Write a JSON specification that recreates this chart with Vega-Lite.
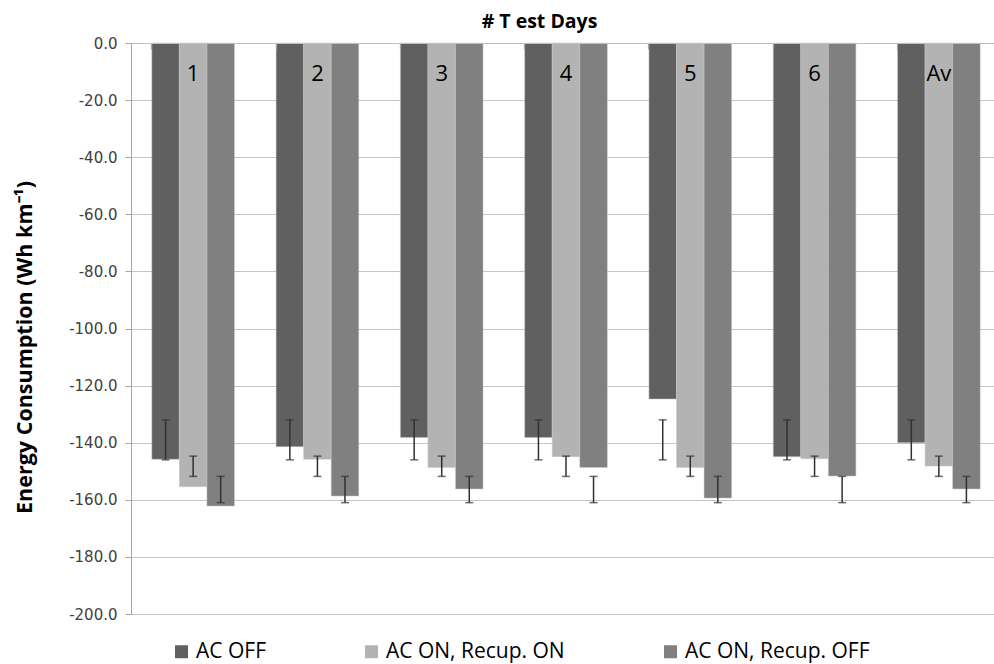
{
  "$schema": "https://vega.github.io/schema/vega-lite/v6.json",
  "autosize": "none",
  "width": 863,
  "height": 571,
  "padding": {"left": 131, "top": 43, "right": 0, "bottom": 50},
  "background": "white",
  "config": {
    "view": {"stroke": null},
    "font": "Open Sans",
    "locale": {"number": {"decimal": ".", "thousands": ",", "grouping": [3], "currency": ["$", ""], "minus": "-"}},
    "axisY": {
      "labelFontSize": 15, "labelColor": "#404040", "labelFont": "DejaVu Sans",
      "tickColor": "#a6a6a6", "tickSize": 6, "labelPadding": 8,
      "domainColor": "#a6a6a6", "gridColor": "#c4c4c4", "gridWidth": 1.2,
      "titleFontSize": 21.5, "titleFontWeight": "bold", "titleColor": "#000000",
      "labelOverlap": false
    }
  },
  "datasets": {
    "bars": [
      {"day": "1", "series": "AC OFF", "value": -145.8, "lo": -146.0, "hi": -132.0},
      {"day": "1", "series": "AC ON, Recup. ON", "value": -155.4, "lo": -151.8, "hi": -144.7},
      {"day": "1", "series": "AC ON, Recup. OFF", "value": -162.2, "lo": -161.0, "hi": -151.8},
      {"day": "2", "series": "AC OFF", "value": -141.4, "lo": -146.0, "hi": -132.0},
      {"day": "2", "series": "AC ON, Recup. ON", "value": -145.8, "lo": -151.8, "hi": -144.7},
      {"day": "2", "series": "AC ON, Recup. OFF", "value": -158.7, "lo": -161.0, "hi": -151.8},
      {"day": "3", "series": "AC OFF", "value": -138.2, "lo": -146.0, "hi": -132.0},
      {"day": "3", "series": "AC ON, Recup. ON", "value": -148.7, "lo": -151.8, "hi": -144.7},
      {"day": "3", "series": "AC ON, Recup. OFF", "value": -156.2, "lo": -161.0, "hi": -151.8},
      {"day": "4", "series": "AC OFF", "value": -138.2, "lo": -146.0, "hi": -132.0},
      {"day": "4", "series": "AC ON, Recup. ON", "value": -144.9, "lo": -151.8, "hi": -144.7},
      {"day": "4", "series": "AC ON, Recup. OFF", "value": -148.7, "lo": -161.0, "hi": -151.8},
      {"day": "5", "series": "AC OFF", "value": -124.7, "lo": -146.0, "hi": -132.0},
      {"day": "5", "series": "AC ON, Recup. ON", "value": -148.7, "lo": -151.8, "hi": -144.7},
      {"day": "5", "series": "AC ON, Recup. OFF", "value": -159.4, "lo": -161.0, "hi": -151.8},
      {"day": "6", "series": "AC OFF", "value": -144.9, "lo": -146.0, "hi": -132.0},
      {"day": "6", "series": "AC ON, Recup. ON", "value": -145.6, "lo": -151.8, "hi": -144.7},
      {"day": "6", "series": "AC ON, Recup. OFF", "value": -151.7, "lo": -161.0, "hi": -151.8},
      {"day": "Av", "series": "AC OFF", "value": -140.0, "lo": -146.0, "hi": -132.0},
      {"day": "Av", "series": "AC ON, Recup. ON", "value": -148.2, "lo": -151.8, "hi": -144.7},
      {"day": "Av", "series": "AC ON, Recup. OFF", "value": -156.2, "lo": -161.0, "hi": -151.8}
    ],
    "labels": [
      {"day": "1", "label": "1"},
      {"day": "2", "label": "2"},
      {"day": "3", "label": "3"},
      {"day": "4", "label": "4"},
      {"day": "5", "label": "5"},
      {"day": "6", "label": "6"},
      {"day": "Av", "label": "Av"}
    ]
  },
  "encoding": {
    "x": {
      "field": "day", "type": "nominal",
      "scale": {"domain": ["1", "2", "3", "4", "5", "6", "Av"], "range": [0, 870], "paddingInner": 0.335, "paddingOuter": 0.1675},
      "axis": {
        "orient": "top", "title": "# T est Days", "labels": false,
        "ticks": true, "bandPosition": 0, "tickSize": -6, "tickColor": "#a6a6a6", "tickWidth": 1.2,
        "domain": true, "domainColor": "#c0c0c0", "domainWidth": 1.2, "zindex": 1,
        "titleFontSize": 19.5, "titleFontWeight": "bold", "titleColor": "#000000",
        "titleX": 408, "titleY": -22, "titleAlign": "center", "titleBaseline": "middle", "titleAnchor": null
      }
    }
  },
  "layer": [
    {
      "data": {"name": "bars"},
      "mark": {"type": "bar", "stroke": "#c8c8c8", "strokeWidth": 0.5},
      "encoding": {
        "xOffset": {"field": "series", "type": "nominal",
          "scale": {"domain": ["AC OFF", "AC ON, Recup. ON", "AC ON, Recup. OFF"], "paddingInner": 0, "paddingOuter": 0}},
        "y": {
          "field": "value", "type": "quantitative",
          "scale": {"domain": [-200, 0], "nice": false, "zero": false},
          "axis": {
            "title": "Energy Consumption (Wh km⁻¹)",
            "format": ".1f", "values": [0, -20, -40, -60, -80, -100, -120, -140, -160, -180, -200],
            "titleX": -106, "titleY": 304, "titleAngle": 270, "titleAlign": "center", "titleBaseline": "middle"
          }
        },
        "color": {
          "field": "series", "type": "nominal",
          "scale": {"domain": ["AC OFF", "AC ON, Recup. ON", "AC ON, Recup. OFF"], "range": ["#606060", "#b3b3b3", "#808080"]},
          "legend": {
            "title": null, "orient": "none", "direction": "horizontal",
            "legendX": 40, "legendY": 598, "padding": 0,
            "symbolType": "square", "symbolSize": 169, "symbolStrokeWidth": 0, "symbolOffset": 0,
            "labelFontSize": 21, "labelColor": "#000000", "labelOffset": 4, "labelLimit": 400, "columnPadding": 95
          }
        }
      }
    },
    {
      "data": {"name": "bars"},
      "mark": {"type": "rule", "color": "#303030", "strokeWidth": 1.5},
      "encoding": {
        "xOffset": {"field": "series", "type": "nominal"},
        "y": {"field": "lo", "type": "quantitative",
          "axis": {"title": "Energy Consumption (Wh km⁻¹)", "format": ".1f", "values": [0, -20, -40, -60, -80, -100, -120, -140, -160, -180, -200],
            "titleX": -106, "titleY": 304, "titleAngle": 270, "titleAlign": "center", "titleBaseline": "middle"}},
        "y2": {"field": "hi"}
      }
    },
    {
      "data": {"name": "bars"},
      "mark": {"type": "tick", "color": "#303030", "thickness": 1.5, "size": 8},
      "encoding": {
        "xOffset": {"field": "series", "type": "nominal"},
        "y": {"field": "lo", "type": "quantitative",
          "axis": {"title": "Energy Consumption (Wh km⁻¹)", "format": ".1f", "values": [0, -20, -40, -60, -80, -100, -120, -140, -160, -180, -200],
            "titleX": -106, "titleY": 304, "titleAngle": 270, "titleAlign": "center", "titleBaseline": "middle"}}
      }
    },
    {
      "data": {"name": "bars"},
      "mark": {"type": "tick", "color": "#303030", "thickness": 1.5, "size": 8},
      "encoding": {
        "xOffset": {"field": "series", "type": "nominal"},
        "y": {"field": "hi", "type": "quantitative",
          "axis": {"title": "Energy Consumption (Wh km⁻¹)", "format": ".1f", "values": [0, -20, -40, -60, -80, -100, -120, -140, -160, -180, -200],
            "titleX": -106, "titleY": 304, "titleAngle": 270, "titleAlign": "center", "titleBaseline": "middle"}}
      }
    },
    {
      "data": {"name": "labels"},
      "mark": {"type": "text", "fontSize": 22, "color": "#000000", "baseline": "middle"},
      "encoding": {
        "xOffset": {"datum": "AC ON, Recup. ON"},
        "y": {"datum": -11,
          "axis": {"title": "Energy Consumption (Wh km⁻¹)", "format": ".1f", "values": [0, -20, -40, -60, -80, -100, -120, -140, -160, -180, -200],
            "titleX": -106, "titleY": 304, "titleAngle": 270, "titleAlign": "center", "titleBaseline": "middle"}},
        "text": {"field": "label"}
      }
    }
  ]
}
